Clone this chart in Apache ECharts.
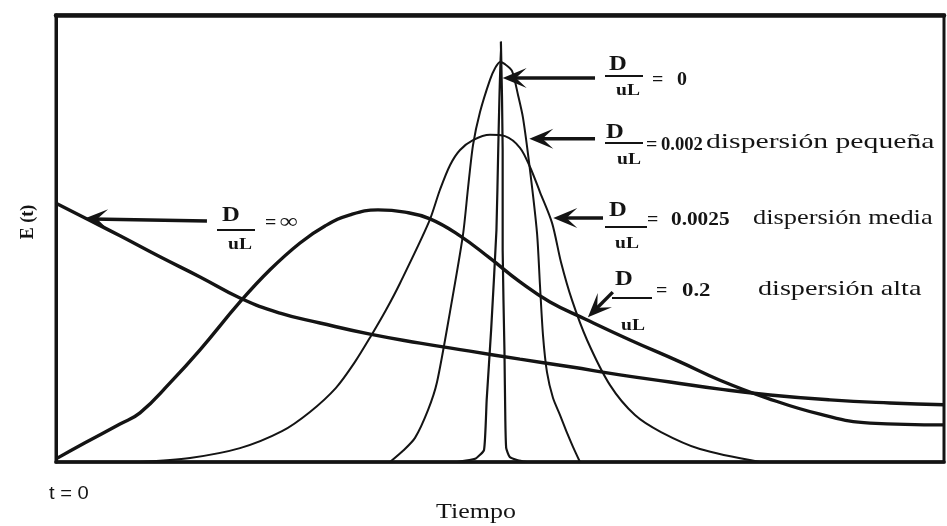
<!DOCTYPE html>
<html><head><meta charset="utf-8">
<script src="https://cdn.jsdelivr.net/npm/echarts@6/dist/echarts.min.js"></script>
<style>html,body{margin:0;padding:0;background:#fff}#c{width:947px;height:526px}</style>
</head><body><div id="c"></div>
<script>
// ---- data (x: tiempo 0..100, y: E(t) 0..100) ----
const infX = [0,3.27,7.21,11.71,16.22,20.72,25.23,29.73,35.36,40.99,46.62,52.25,57.88,63.51,69.14,74.77,80.41,87.16,93.92,100];
const infY = [57.9,54.6,50.6,45.9,41.4,36.7,33.3,31.1,28.6,26.6,24.8,23,21.3,19.5,17.9,16.3,15,13.9,13.2,12.8];

const altaX = [0,3.27,7.21,9.46,12.84,16.22,20.72,24.1,27.48,30.29,33.11,36.26,39.3,42.12,45.5,48.87,52.25,55.63,59.57,64.64,70.27,74.77,80.07,86.04,91.67,100];
const altaY = [0.7,4.3,8.5,11,17.7,25.1,35.8,43,49,52.8,55.3,56.4,55.9,54.4,50.6,45.6,40.3,35.8,32,27.3,22.4,18.3,14.3,10.7,8.7,8.3];

const mediaX = [9.46,15.09,20.72,25.45,28.6,31.53,33.67,35.47,37.16,38.74,42,43.24,44.37,45.5,46.96,48.87,50.56,52.25,53.38,54.5,55.86,56.87,58.11,59.8,62.39,65.2,68.13,72.52,79.28];
const mediaY = [0,0.9,3.1,6.9,11.2,16.6,22.4,28.2,34,40,53.7,60.9,66.4,69.8,72,73.2,72.9,70.3,66,60.4,53.5,44.7,36.2,27.3,17.2,10.5,6.7,2.9,0];

const pequenaX = [37.61,39.08,40.43,41.89,42.91,44.37,45.83,46.4,46.96,47.75,48.87,49.44,50,50.56,51.35,52.03,52.59,53.38,54.17,54.5,54.84,55.29,55.97,56.76,57.55,58.22,59.01];
const pequenaY = [0,2.5,5.4,11.6,17.9,33.6,50.8,61.3,70.9,78.3,85.5,88.1,89.5,89,87.5,82.1,77,65.3,51.2,39.6,28.4,20.1,14.3,10.5,6.5,3.4,0];

const ceroX = [45.2,47.2,48.2,48.5,49,49.6,49.8,50.1,50.3,50.3,50.5,50.6,50.7,51.1,52,53];
const ceroY = [0,0.7,2.7,13.9,29.5,51.9,69.8,94,69.8,47.4,25.1,9.4,3.1,1.1,0.4,0];

// ---- texts ----
const ratioLabels = ['0','0.002','0.0025','0.2','∞'];
const descLabels = ['','dispersión pequeña','dispersión media','dispersión alta',''];
const yTitle = 'E (t)';
const xTitle = 'Tiempo';
const originLabel = 't = 0';

// annotation arrows in data coords: [x, y]
const arrowFrom = [[60.7,85.9],[60.7,72.3],[61.6,54.6],[62.7,38.0],[17.0,53.9]];
const arrowTip  = [[50.3,85.9],[53.3,72.3],[56.0,54.6],[59.9,32.4],[3.15,54.4]];

function pairs(xs, ys){ return xs.map((x,i)=>[x, ys[i]]); }

const INK = '#141414';
const seriesDefs = [
  {name:'D/uL = ∞', xs:infX, ys:infY, w:3.4, smooth:0.5},
  {name:'D/uL = 0.2', xs:altaX, ys:altaY, w:3.4, smooth:0.45},
  {name:'D/uL = 0.0025', xs:mediaX, ys:mediaY, w:2, smooth:0.3},
  {name:'D/uL = 0.002', xs:pequenaX, ys:pequenaY, w:2, smooth:0.25},
  {name:'D/uL = 0', xs:ceroX, ys:ceroY, w:2.2, smooth:0.15}
];

const chart = echarts.init(document.getElementById('c'), null, {renderer:'canvas'});
const hiddenAxis = {axisTick:{show:false},axisLabel:{show:false},splitLine:{show:false}};
chart.setOption({
  animation:false,
  backgroundColor:'#ffffff',
  grid:{left:56,right:3,top:15,bottom:64,show:true,borderColor:INK,borderWidth:3,backgroundColor:'transparent'},
  xAxis:[
    Object.assign({type:'value',min:0,max:100,axisLine:{show:true,lineStyle:{color:INK,width:3.5}}},hiddenAxis),
    Object.assign({type:'value',min:0,max:100,position:'top',axisLine:{show:true,lineStyle:{color:INK,width:4.5}}},hiddenAxis)
  ],
  yAxis:[Object.assign({type:'value',min:0,max:100,axisLine:{show:true,lineStyle:{color:INK,width:3}}},hiddenAxis)],
  series: seriesDefs.map(s=>({
    type:'line', name:s.name, xAxisIndex:0, yAxisIndex:0,
    data:pairs(s.xs,s.ys), symbol:'none', showSymbol:false, smooth:s.smooth,
    lineStyle:{color:INK,width:s.w}, z:3
  }))
});

// ---- annotation layout (pixels) ----
const SERIF = 'Liberation Serif';
const layout = [
  {D:[618,64], bar:[605,643,76], uL:[628,91], eq:[652,80], num:[677,80], ns:1.05},
  {D:[615,132], bar:[605,643,143], uL:[629,160], eq:[646,145], num:[661,145], ns:0.98, desc:[706,142,1.35]},
  {D:[618,210], bar:[605,647,227], uL:[627,244], eq:[647,220], num:[671,220], ns:1.12, desc:[753,218,1.2]},
  {D:[624,279], bar:[612,652,298], uL:[633,326], eq:[656,291], num:[682,291], ns:1.2, desc:[758,289,1.28]},
  {D:[231,215], bar:[217,255,230], uL:[240,245], eq:[265,223], num:[280,223], ns:1.2}
];

function txt(text, x, y, size, weight, align, sx, family, rot){
  return {type:'text', x:x, y:y, scaleX:sx||1, rotation:rot||0, z:10,
    style:{text:text, fontSize:size, fontWeight:weight, fontFamily:family||SERIF,
      textAlign:align, align:align, textVerticalAlign:'middle', verticalAlign:'middle', fill:INK}};
}

const g = [];
layout.forEach((L,i)=>{
  g.push(txt('D', L.D[0], L.D[1], 22, 'bold', 'center', 1.12));
  g.push({type:'line', z:10, shape:{x1:L.bar[0],y1:L.bar[2],x2:L.bar[1],y2:L.bar[2]}, style:{stroke:INK,lineWidth:2.2}});
  g.push(txt('uL', L.uL[0], L.uL[1], 17, 'bold', 'center', 1.15));
  g.push(txt('=', L.eq[0], L.eq[1], 19, 'bold', 'left', 1.05));
  g.push(txt(ratioLabels[i], L.num[0], L.num[1], i===4 ? 21 : 19, 'bold', 'left', L.ns));
  if (L.desc && descLabels[i]) g.push(txt(descLabels[i], L.desc[0], L.desc[1], 22, 'normal', 'left', L.desc[2]));
});
g.push(txt(yTitle, 28, 222, 18, 'bold', 'center', 1, SERIF, Math.PI/2));
g.push(txt(originLabel, 49, 494, 18, 'normal', 'left', 1.12, 'Liberation Sans'));
g.push(txt(xTitle, 476, 512, 22, 'normal', 'center', 1.18));

// arrows converted from data coords
arrowFrom.forEach((f,i)=>{
  const a = chart.convertToPixel({gridIndex:0}, f);
  const b = chart.convertToPixel({gridIndex:0}, arrowTip[i]);
  const dx=b[0]-a[0], dy=b[1]-a[1], d=Math.hypot(dx,dy), ux=dx/d, uy=dy/d, px=-uy, py=ux;
  const len=24, w=20, notch=0.55;
  const bx=b[0]-ux*len, by=b[1]-uy*len;
  g.push({type:'line', z:9, shape:{x1:a[0],y1:a[1],x2:b[0]-ux*8,y2:b[1]-uy*8}, style:{stroke:INK,lineWidth:3.5}});
  g.push({type:'polygon', z:9, shape:{points:[
    [b[0],b[1]], [bx+px*w/2, by+py*w/2], [b[0]-ux*len*notch, b[1]-uy*len*notch], [bx-px*w/2, by-py*w/2]
  ]}, style:{fill:INK}});
});
chart.setOption({graphic:g});
</script></body></html>
